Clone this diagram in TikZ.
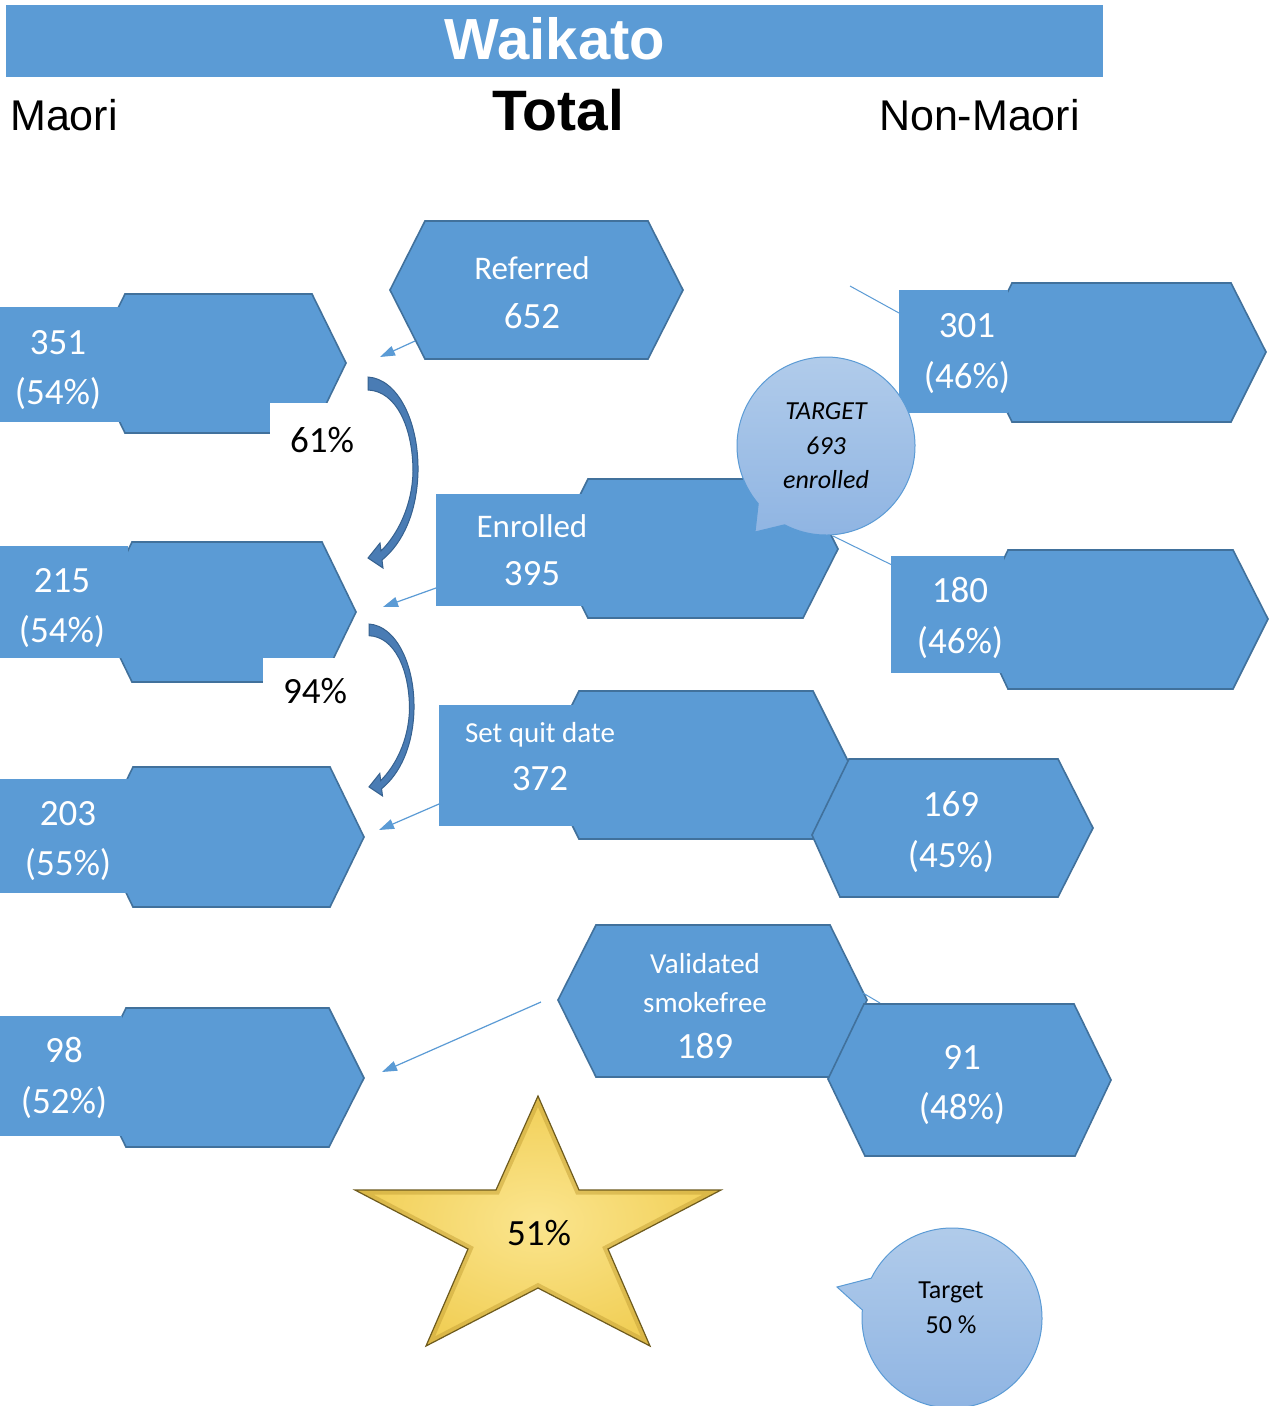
\documentclass[tikz,border=0pt]{standalone}
\usepackage{fontspec}
\setmainfont{Carlito}
\newfontfamily\arialfont{Liberation Sans}
\usetikzlibrary{arrows.meta,calc}
\definecolor{boxblue}{HTML}{5B9BD5}
\definecolor{boxedge}{HTML}{41719C}
\definecolor{arrowfill}{HTML}{4A7CB4}
\definecolor{arrowedge}{HTML}{36618F}
\definecolor{calltop}{HTML}{B3CDEB}
\definecolor{callbot}{HTML}{8DB3E2}
\definecolor{starin}{HTML}{FBE58E}
\definecolor{starout}{HTML}{F1CF57}
\definecolor{starband}{HTML}{C9A53A}
\definecolor{staredge}{HTML}{6E5B1E}
\tikzset{
  hexa/.style={fill=boxblue, draw=boxedge, line width=1.6pt, line join=miter},
  patch/.style={fill=boxblue, draw=none},
  whitebox/.style={fill=white, draw=none},
  numtxt/.style={text=white, font=\fontsize{37}{37}\selectfont, inner sep=0pt, anchor=base},
  lbltxt/.style={text=white, font=\fontsize{33}{33}\selectfont, inner sep=0pt, anchor=base},
  smltxt/.style={text=white, font=\fontsize{29}{29}\selectfont, inner sep=0pt, anchor=base},
  pcttxt/.style={text=black, font=\fontsize{37}{37}\selectfont, inner sep=0pt, anchor=base},
  calltxt/.style={text=black, font=\fontsize{26}{26}\selectfont, inner sep=0pt, anchor=base},
  headtxt/.style={text=black, font=\arialfont\fontsize{43}{43}\selectfont, inner sep=0pt},
  feed/.style={draw=boxblue, line width=1.2pt, -{Triangle[length=15pt,width=10pt]}},
  feedline/.style={draw=boxblue, line width=1pt},
  callout/.style={top color=calltop, bottom color=callbot, draw=boxblue, line width=1pt},
  bendarrow/.pic={
    \filldraw[fill=arrowfill, draw=arrowedge, line width=1pt, line join=miter]
      (0,0) .. controls (30,2) and (51,45) .. (50,95)
      .. controls (49,135) and (35,166) .. (14,183)
      -- (15,191) -- (0,181) -- (12,166) -- (13,174)
      .. controls (29,158) and (44,130) .. (45,95)
      .. controls (45,50) and (28,14) .. (0,13) -- cycle;
  }
}
\begin{document}
\begin{tikzpicture}[x=1pt,y=-1pt]
\useasboundingbox (0,0) rectangle (1278,1406);
\fill[white] (0,0) rectangle (1278,1406);

% ---------- header ----------
\fill[boxblue] (6,5) rectangle (1103,77);
\node[text=white, font=\arialfont\bfseries\fontsize{58}{58}\selectfont, inner sep=0pt, anchor=base] (title) at (555,59) {Waikato};
\node[headtxt, anchor=base west] (hmaori) at (10,130) {Maori};
\node[text=black, font=\arialfont\bfseries\fontsize{57}{57}\selectfont, inner sep=0pt, anchor=base] (htotal) at (558,130) {Total};
\node[headtxt, anchor=base east] (hnon) at (1080,130) {Non-Maori};

% ---------- Maori column ----------
\path[hexa] (91,363) -- (125,294) -- (312,294) -- (346,363) -- (312,433) -- (125,433) -- cycle;
\fill[patch] (0,307) rectangle (122,422);
\fill[whitebox] (270,403) rectangle (366,478);
\node[numtxt] (m1a) at (58,354) {351};
\node[numtxt] (m1b) at (58,404) {(54\%)};
\node[pcttxt] (p61) at (322,452) {61\%};

\path[hexa] (98,612) -- (132,542) -- (322,542) -- (356,612) -- (322,682) -- (132,682) -- cycle;
\fill[patch] (0,546) rectangle (128,658);
\fill[whitebox] (263,658) rectangle (366,725);
\node[numtxt] (m2a) at (62,592) {215};
\node[numtxt] (m2b) at (62,642) {(54\%)};
\node[pcttxt] (p94) at (315,703) {94\%};

\path[hexa] (99,837) -- (133,767) -- (330,767) -- (364,837) -- (330,907) -- (133,907) -- cycle;
\fill[patch] (0,779) rectangle (130,893);
\node[numtxt] (m3a) at (68,825) {203};
\node[numtxt] (m3b) at (68,875) {(55\%)};

\path[hexa] (92,1078) -- (126,1008) -- (329,1008) -- (364,1078) -- (329,1147) -- (126,1147) -- cycle;
\fill[patch] (0,1016) rectangle (122,1136);
\node[numtxt] (m4a) at (64,1062) {98};
\node[numtxt] (m4b) at (64,1113) {(52\%)};

% curved block arrows
\pic at (368,377) {bendarrow};
\pic[scale=0.9] at (369,624) {bendarrow};

% ---------- Total column ----------
\path[hexa] (390,290) -- (425,221) -- (648,221) -- (683,290) -- (648,359) -- (425,359) -- cycle;
\node[lbltxt] (t1a) at (532,279) {Referred};
\node[numtxt] (t1b) at (532,328) {652};

\path[hexa] (553,549) -- (588,479) -- (803,479) -- (838,549) -- (803,618) -- (588,618) -- cycle;
\fill[patch] (436,494) rectangle (583,606);
\node[lbltxt] (t2a) at (532,537) {Enrolled};
\node[numtxt] (t2b) at (532,585) {395};

\path[hexa] (542,765) -- (579,691) -- (813,691) -- (850,765) -- (813,839) -- (579,839) -- cycle;
\fill[patch] (439,705) rectangle (575,826);
\node[smltxt] (t3a) at (540,742) {Set quit date};
\node[numtxt] (t3b) at (540,790) {372};

\path[hexa] (558,1000) -- (596,925) -- (830,925) -- (867,1000) -- (830,1077) -- (596,1077) -- cycle;
\node[smltxt] (t4a) at (705,973) {Validated};
\node[smltxt] (t4b) at (705,1012) {smokefree};
\node[numtxt] (t4c) at (705,1058) {189};

% ---------- feed arrows to Maori ----------
\coordinate (f1s) at (415,341); \coordinate (f1e) at (380,357);
\coordinate (f2s) at (436,588); \coordinate (f2e) at (383,607);
\coordinate (f3s) at (439,804); \coordinate (f3e) at (379,830);
\coordinate (f4s) at (541,1002); \coordinate (f4e) at (382,1072);
\draw[feed] (f1s) -- (f1e);
\draw[feed] (f2s) -- (f2e);
\draw[feed] (f3s) -- (f3e);
\draw[feed] (f4s) -- (f4e);

% ---------- feed lines to non-Maori ----------
\coordinate (g1s) at (850,286); \coordinate (g1e) at (899,313);
\coordinate (g2s) at (833,536); \coordinate (g2e) at (892,565);
\coordinate (g3s) at (863,993); \coordinate (g3e) at (880,1003);
\draw[feedline] (g1s) -- (g1e);
\draw[feedline] (g2s) -- (g2e);
\draw[feedline] (g3s) -- (g3e);

% ---------- Non-Maori column ----------
\path[hexa] (978,352) -- (1012,283) -- (1231,283) -- (1266,352) -- (1231,422) -- (1012,422) -- cycle;
\fill[patch] (899,290) rectangle (1008,413);
\node[numtxt] (n1a) at (967,337) {301};
\node[numtxt] (n1b) at (967,388) {(46\%)};

\path[hexa] (975,619) -- (1008,550) -- (1233,550) -- (1268,619) -- (1233,689) -- (1008,689) -- cycle;
\fill[patch] (891,556) rectangle (1004,673);
\node[numtxt] (n2a) at (960,602) {180};
\node[numtxt] (n2b) at (960,653) {(46\%)};

\path[hexa] (812,835) -- (849,759) -- (1058,759) -- (1093,828) -- (1058,897) -- (840,897) -- cycle;
\node[numtxt] (n3a) at (951,816) {169};
\node[numtxt] (n3b) at (951,867) {(45\%)};

\path[hexa] (828,1079) -- (864,1004) -- (1074,1004) -- (1111,1080) -- (1075,1156) -- (865,1156) -- cycle;
\node[numtxt] (n4a) at (962,1069) {91};
\node[numtxt] (n4b) at (962,1119) {(48\%)};

% ---------- callouts ----------
\path[callout] (826,446) ++(117.7:89) arc[start angle=117.7, end angle=-220.4, radius=89] -- (755,532) -- cycle;
\node[calltxt, font=\itshape\fontsize{26}{26}\selectfont] (c1a) at (826,419) {TARGET};
\node[calltxt, font=\itshape\fontsize{26}{26}\selectfont] (c1b) at (826,454) {693};
\node[calltxt, font=\itshape\fontsize{26}{26}\selectfont] (c1c) at (826,488) {enrolled};

\path[callout] (952,1318) ++(206.3:90) arc[start angle=206.3, end angle=545.1, radius=90] -- (837,1287) -- cycle;
\node[calltxt] (c2a) at (951,1298) {Target};
\node[calltxt] (c2b) at (951,1333) {50 \%};

% ---------- star ----------
\shade[inner color=starin, outer color=starout]
  (538,1096) -- (579,1190) -- (721,1190) -- (608,1249) -- (650,1346) -- (538,1288)
  -- (426,1346) -- (468,1249) -- (355,1190) -- (496,1190) -- cycle;
\begin{scope}
\clip (538,1096) -- (579,1190) -- (721,1190) -- (608,1249) -- (650,1346) -- (538,1288)
  -- (426,1346) -- (468,1249) -- (355,1190) -- (496,1190) -- cycle;
\draw[starband, line width=9pt, opacity=0.55, line join=miter]
  (538,1096) -- (579,1190) -- (721,1190) -- (608,1249) -- (650,1346) -- (538,1288)
  -- (426,1346) -- (468,1249) -- (355,1190) -- (496,1190) -- cycle;
\end{scope}
\draw[staredge, line width=1.2pt, line join=miter]
  (538,1096) -- (579,1190) -- (721,1190) -- (608,1249) -- (650,1346) -- (538,1288)
  -- (426,1346) -- (468,1249) -- (355,1190) -- (496,1190) -- cycle;
\node[pcttxt] (p51) at (539,1245) {51\%};
\end{tikzpicture}
\end{document}
